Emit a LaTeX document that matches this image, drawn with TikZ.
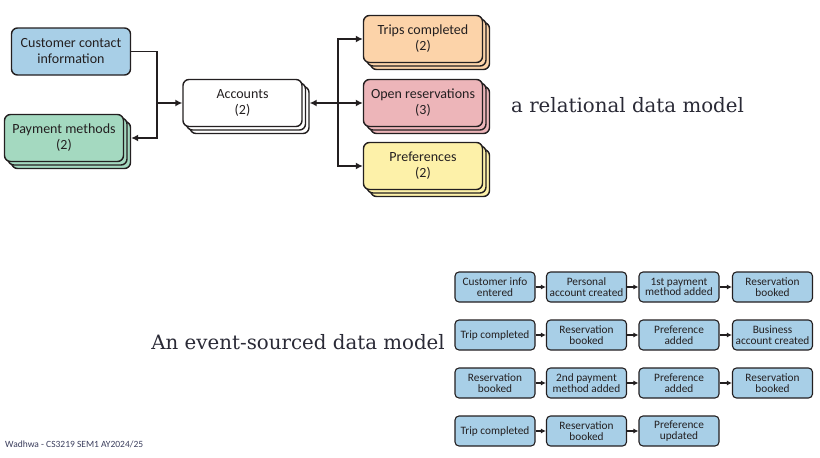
\documentclass[tikz,border=0pt]{standalone}
\usepackage{fontspec}
\setmainfont{Carlito}
\newfontfamily\serifx{DejaVu Serif}
\usetikzlibrary{shadows,arrows.meta,calc}
\definecolor{cblue}{HTML}{A8CFE7}
\definecolor{cgreen}{HTML}{A4D9C0}
\definecolor{corange}{HTML}{FCD3A9}
\definecolor{cpink}{HTML}{EDB5B9}
\definecolor{cyellow}{HTML}{FDF1A9}
\definecolor{ink}{HTML}{231F20}
\definecolor{titleink}{HTML}{2A2A36}
\definecolor{footink}{HTML}{3A3D5C}
\tikzset{
  bigbox/.style={draw=ink, line width=1.4pt, rounded corners=6pt, minimum width=119pt,
    minimum height=47pt, align=center, text=ink, inner sep=2pt,
    font=\fontsize{14}{16}\selectfont},
  stackbox/.style={bigbox, double copy shadow={shadow xshift=3.5pt, shadow yshift=-3.5pt}},
  evbox/.style={draw=ink, line width=1.1pt, rounded corners=4pt, fill=cblue, minimum width=80pt,
    minimum height=30pt, align=center, text=ink, inner sep=1pt,
    font=\fontsize{11.3}{10.5}\selectfont},
  conn/.style={line width=1.4pt, draw=ink},
  bigtip/.style={-{Latex[length=7pt,width=7pt]}},
  smalltip/.style={-{Latex[length=5pt,width=5pt]}, line width=1.1pt, draw=ink},
  caption/.style={font=\serifx\fontsize{19.8}{22}\selectfont, text=titleink, inner sep=0pt}
}
\begin{document}
\begin{tikzpicture}[x=1pt,y=-1pt]
\useasboundingbox (0,0) rectangle (820,458);
% relational model
\node[bigbox, fill=cblue] (cust) at (71,51.5) {Customer contact\\information};
\node[stackbox, fill=cgreen] (pay) at (64,138) {Payment methods\\(2)};
\node[stackbox, fill=white] (acc) at (242.5,103) {Accounts\\(2)};
\node[stackbox, fill=corange] (trips) at (423,39) {Trips completed\\(2)};
\node[stackbox, fill=cpink] (open) at (423,103) {Open reservations\\(3)};
\node[stackbox, fill=cyellow] (pref) at (423,166) {Preferences\\(2)};
\node[caption, anchor=west] (rel) at (511,105) {a relational data model};

\coordinate (jl) at (157,103);
\coordinate (payE) at ($(pay.east)+(7,0)$);
\coordinate (accE) at ($(acc.east)+(7,0)$);
\coordinate (jr) at (338,103);
\draw[conn] (cust.east) -| (jl);
\draw[conn, bigtip] (jl) -- (acc.west);
\draw[conn, bigtip] (jl) |- (payE);
\draw[conn, {Latex[length=7pt,width=7pt]}-{Latex[length=7pt,width=7pt]}] (accE) -- (open.west);
\draw[conn, bigtip] (jr) |- (trips.west);
\draw[conn, bigtip] (jr) |- (pref.west);

% event-sourced model
\node[caption, anchor=east] (ev) at (445,342) {An event-sourced data model};

\node[evbox] (a1) at (495,287) {Customer info\\entered};
\node[evbox] (a2) at (586.5,287) {Personal\\account created};
\node[evbox] (a3) at (679,287) {1st payment\\method added};
\node[evbox] (a4) at (772.5,287) {Reservation\\booked};

\node[evbox] (b1) at (495,335) {Trip completed};
\node[evbox] (b2) at (586.5,335) {Reservation\\booked};
\node[evbox] (b3) at (679,335) {Preference\\added};
\node[evbox] (b4) at (772.5,335) {Business\\account created};

\node[evbox] (c1) at (495,383) {Reservation\\booked};
\node[evbox] (c2) at (586.5,383) {2nd payment\\method added};
\node[evbox] (c3) at (679,383) {Preference\\added};
\node[evbox] (c4) at (772.5,383) {Reservation\\booked};

\node[evbox] (d1) at (495,431) {Trip completed};
\node[evbox] (d2) at (586.5,431) {Reservation\\booked};
\node[evbox] (d3) at (679,431) {Preference\\updated};

\foreach \r in {a,b,c}{
  \draw[smalltip] (\r1) -- (\r2);
  \draw[smalltip] (\r2) -- (\r3);
  \draw[smalltip] (\r3) -- (\r4);
}
\draw[smalltip] (d1) -- (d2);
\draw[smalltip] (d2) -- (d3);

\node[anchor=west, font=\fontsize{9.5}{10}\selectfont, text=footink, inner sep=0pt] (foot) at (5,444) {Wadhwa - CS3219 SEM1 AY2024/25};
\end{tikzpicture}
\end{document}
